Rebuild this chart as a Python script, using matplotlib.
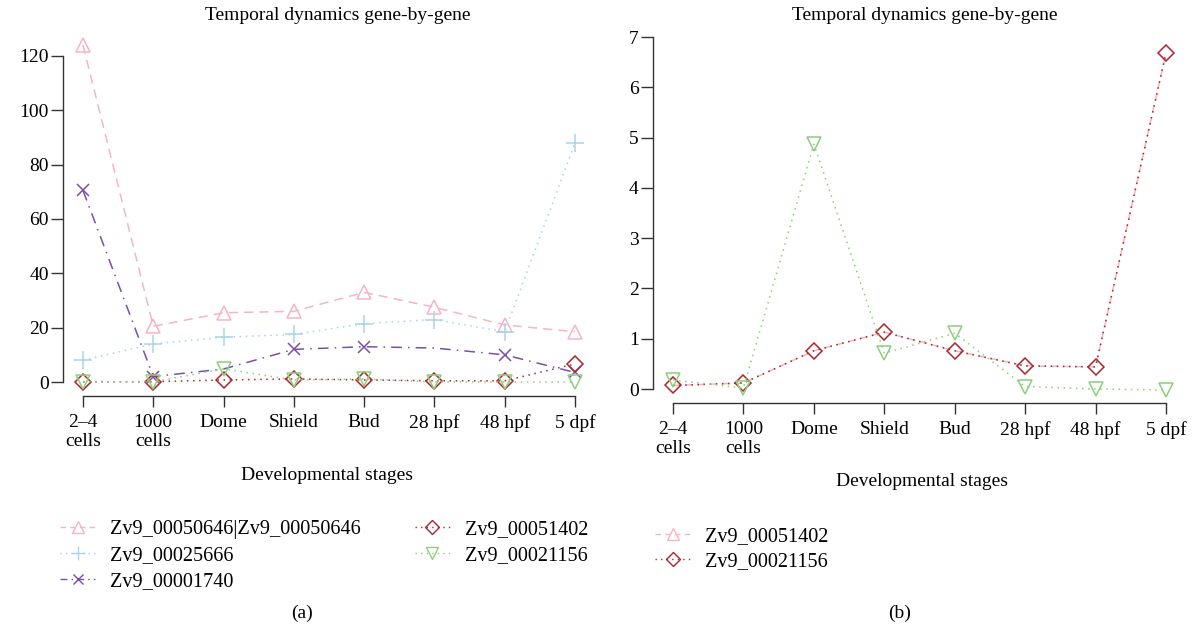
import matplotlib
matplotlib.use("Agg")
import matplotlib.pyplot as plt
from matplotlib.lines import Line2D

plt.rcParams['font.family'] = ['Liberation Serif', 'DejaVu Serif']

stages = ["2\u20134\ncells", "1000\ncells", "Dome", "Shield", "Bud", "28 hpf", "48 hpf", "5 dpf"]

g_50646 = [124, 20.5, 25.5, 26, 33, 27.5, 21, 18.5]
g_25666 = [8, 14, 16.5, 17.5, 21.5, 23, 18.5, 88]
g_01740 = [70.5, 2, 4.8, 12, 13, 12.5, 10, 3.5]
g_51402 = [0.07, 0.12, 0.76, 1.13, 0.76, 0.46, 0.44, 6.68]
g_21156 = [0.18, 0.02, 4.87, 0.71, 1.11, 0.05, 0.0, -0.02]

names_a = ["Zv9_00050646|Zv9_00050646", "Zv9_00025666", "Zv9_00001740",
           "Zv9_00051402", "Zv9_00021156"]
names_b = ["Zv9_00051402", "Zv9_00021156"]

PINK = "#F5B5C3"
BLUE = "#A9D4E8"
PURPLE = "#7B4FA6"
RED = "#B0242C"
GREEN = "#8CCF7E"

W, H = 1194, 629
fig = plt.figure(figsize=(W / 100, H / 100), dpi=100)

def px_axes(l, t, r, b):
    return fig.add_axes([l / W, 1 - b / H, (r - l) / W, (b - t) / H])

FS = 14
LFS = 14.6
x = list(range(1, len(stages) + 1))

def style(ax, yt, ylo, yhi):
    ax.set_xlim(0.72, 8.28)
    ax.set_ylim(ylo, yhi)
    for s in ("top", "right"):
        ax.spines[s].set_visible(False)
    ax.spines["left"].set_bounds(yt[0], yt[-1])
    ax.spines["bottom"].set_bounds(1, 8)
    for s in ("left", "bottom"):
        ax.spines[s].set_color("#333333")
        ax.spines[s].set_linewidth(1.0)
    ax.set_yticks(yt)
    ax.set_xticks(x)
    ax.set_xticklabels(stages, linespacing=1.15)
    ax.tick_params(axis="y", length=8.5, width=1.0, labelsize=FS, pad=2, color="#333333")
    ax.tick_params(axis="x", length=8, width=1.0, labelsize=FS, pad=5, color="#333333")
    ax.patch.set_alpha(0)

mk = dict(markersize=10, markerfacecolor="none", markeredgewidth=1.1, linewidth=1.1)

# Panel (a)
axa = px_axes(63.3, 31.5, 594.7, 396)
axa.plot(x, g_50646, color=PINK, linestyle=(0, (6, 4)), marker="^", markeredgecolor=PINK, **mk)
axa.plot(x, g_25666, color=BLUE, linestyle=(0, (1, 3)), marker="+", markeredgecolor=BLUE,
         markersize=13, linewidth=1.1, markeredgewidth=1.1)
axa.plot(x, g_01740, color=PURPLE, linestyle=(0, (7, 4, 1, 4)), marker="x", markeredgecolor=PURPLE,
         markersize=8, linewidth=1.1, markeredgewidth=1.1, markevery=[0, 1, 3, 4, 6, 7])
axa.plot(x, g_51402, color=RED, linestyle=(0, (1, 3)), marker="D", markeredgecolor=RED,
         markersize=8.5, markerfacecolor="none", markeredgewidth=1.1, linewidth=1.1)
axa.plot(x, g_21156, color=GREEN, linestyle=(0, (1, 3)), marker="v", markeredgecolor=GREEN, **mk)
style(axa, [0, 20, 40, 60, 80, 100, 120], -5.15, 129)

fig.text(338 / W, 1 - 16 / H, "Temporal dynamics gene-by-gene", ha="center", va="center", fontsize=14)
fig.text(327 / W, 1 - 475 / H, "Developmental stages", ha="center", va="center", fontsize=14)
fig.text(302 / W, 1 - 613 / H, "(a)", ha="center", va="center", fontsize=14)

def handle(color, ls, marker, ms):
    return Line2D([], [], color=color, linestyle=ls, marker=marker, markeredgecolor=color,
                  markerfacecolor="none", markersize=ms, linewidth=1.0, markeredgewidth=1.0)

ha = [handle(PINK, (0, (4, 3)), "^", 8),
      handle(BLUE, (0, (1, 3)), "+", 10),
      handle(PURPLE, (0, (5, 3, 1, 3)), "x", 6.5),
      handle(RED, (0, (1, 3)), "D", 7.5),
      handle(GREEN, (0, (1, 3)), "v", 8)]

fig.legend(ha, names_a, loc="upper left",
           bbox_to_anchor=(60 / W, 1 - 520 / H), ncol=2, frameon=False, fontsize=LFS,
           handlelength=1.75, handletextpad=0.72, labelspacing=0.34, columnspacing=2.65,
           borderaxespad=0, borderpad=0)

# Panel (b)
axb = px_axes(653.3, 37, 1185.7, 403)
axb.plot(x, g_51402, color=PINK, linestyle=(0, (5, 3)), linewidth=1.1)
axb.plot(x, g_51402, color=RED, linestyle=(0, (1, 3)), marker="D", markeredgecolor=RED,
         markersize=8.5, markerfacecolor="none", markeredgewidth=1.1, linewidth=1.1)
axb.plot(x, g_21156, color=GREEN, linestyle=(0, (1, 3)), marker="v", markeredgecolor=GREEN, **mk)
style(axb, [0, 1, 2, 3, 4, 5, 6, 7], -0.278, 7.0)

fig.text(925 / W, 1 - 16 / H, "Temporal dynamics gene-by-gene", ha="center", va="center", fontsize=14)
fig.text(922 / W, 1 - 481 / H, "Developmental stages", ha="center", va="center", fontsize=14)
fig.text(900 / W, 1 - 613 / H, "(b)", ha="center", va="center", fontsize=14)

hb = [handle(PINK, (0, (4, 3)), "^", 8), handle(RED, (0, (1, 3)), "D", 7.5)]
fig.legend(hb, names_b, loc="upper left",
           bbox_to_anchor=(655 / W, 1 - 527 / H), ncol=1, frameon=False, fontsize=LFS,
           handlelength=1.75, handletextpad=0.72, labelspacing=0.28,
           borderaxespad=0, borderpad=0)

fig.savefig("out.png", dpi=100)
